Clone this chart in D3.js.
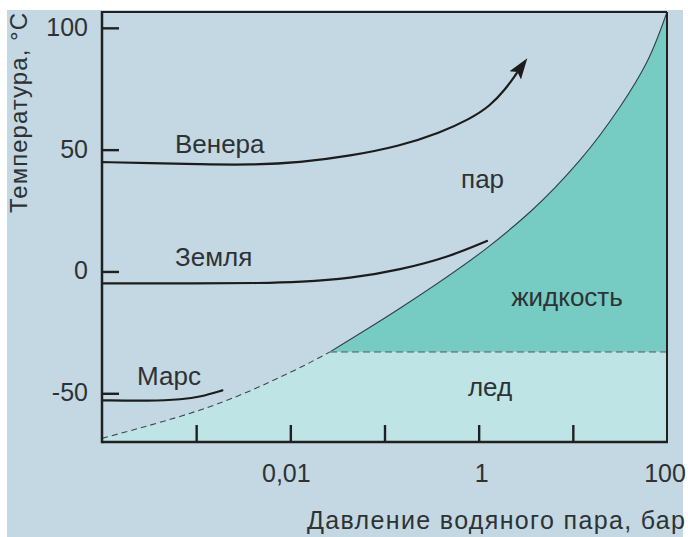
<!DOCTYPE html>
<html>
<head>
<meta charset="utf-8">
<script src="https://cdn.jsdelivr.net/npm/d3@7"></script>
<style>
  html, body { margin: 0; padding: 0; background: #ffffff; }
  svg { display: block; font-family: "Liberation Sans", Arial, sans-serif; }
</style>
</head>
<body>
<svg id="chart" width="688" height="537"></svg>
<script>
// Phase diagram of water with planetary surface conditions
const xTickValues = [0.001, 0.01, 0.1, 1, 10];
const xLabelValues = [0.01, 1, 100];
const xLabelTexts = ["0,01", "1", "100"];
const yTickValues = [100, 50, 0, -50];

// Vapour-pressure boundary (pressure in bar, temperature in °C)
const boundaryP = [1e-4, 0.001, 0.01, 0.0264, 0.146, 1.22, 3.51, 11.9, 31.6, 61.2, 100];
const boundaryT = [-68.5, -57.4, -41.4, -33, -15.1, 9.6, 24.4, 45.7, 67.5, 86.0, 106.5];
const freezeT = -33;

// Planet tracks
const venusP = [1e-4, 3.24e-4, 0.0011, 0.00373, 0.0127, 0.0431, 0.146, 0.388, 0.809, 1.318, 1.90, 2.55];
const venusT = [44.9, 44.5, 44.0, 43.7, 44.7, 47.4, 51.5, 56.9, 62.6, 67.9, 74.5, 81.5];
const earthP = [1e-4, 0.0011, 0.00476, 0.0127, 0.0431, 0.146, 0.495, 1.225];
const earthT = [-4.9, -4.9, -4.8, -4.35, -2.9, 0.6, 6.1, 12.5];
const marsP = [1e-4, 3.2e-4, 7.2e-4, 0.0011, 0.0019];
const marsT = [-52.9, -53.2, -52.5, -51.5, -48.8];

const planetNames = ["Венера", "Земля", "Марс"];
const planetLabelP = [5.96e-4, 5.96e-4, 2.36e-4];
const planetLabelT = [48.6, 2.2, -46.6];
const regionNames = ["пар", "жидкость", "лед"];
const regionLabelP = [1.10, 8.67, 1.32];
const regionLabelT = [34.2, -14.2, -51.1];

const svg = d3.select("#chart");
const plotLeft = 102, plotRight = 667, plotTop = 12, plotBottom = 442;

const x = d3.scaleLog().domain([1e-4, 100]).range([plotLeft, plotRight]);
const y = d3.scaleLinear().domain([-70, 106.5]).range([plotBottom, plotTop]);

const textColor = "#2e3235";
const ink = "#1c1c1c";

// page background
svg.append("rect").attr("x", 7).attr("y", 10).attr("width", 676).attr("height", 527)
  .attr("fill", "#c3d8e2");

const plot = svg.append("g");
plot.append("clipPath").attr("id", "plotClip")
  .append("rect").attr("x", plotLeft).attr("y", plotTop)
  .attr("width", plotRight - plotLeft).attr("height", plotBottom - plotTop);

const fills = plot.append("g").attr("clip-path", "url(#plotClip)");
// liquid above the freezing line, ice below
fills.append("rect").attr("x", plotLeft).attr("width", plotRight - plotLeft)
  .attr("y", plotTop).attr("height", y(freezeT) - plotTop).attr("fill", "#76cbc3");
fills.append("rect").attr("x", plotLeft).attr("width", plotRight - plotLeft)
  .attr("y", y(freezeT)).attr("height", plotBottom - y(freezeT)).attr("fill", "#bfe4e5");

const boundary = boundaryP.map((p, i) => ({ p, t: boundaryT[i] }));

// vapour region: everything left of the boundary
fills.append("path").datum(boundary)
  .attr("d", d3.area().curve(d3.curveMonotoneY)
    .y(d => y(d.t)).x0(plotLeft).x1(d => x(d.p)))
  .attr("fill", "#c3d8e2");

const bLine = d3.line().curve(d3.curveMonotoneY).x(d => x(d.p)).y(d => y(d.t));
fills.append("path").datum(boundary.filter(d => d.t <= freezeT))
  .attr("d", bLine).attr("fill", "none").attr("stroke", "#3a4a50")
  .attr("stroke-width", 1.1).attr("stroke-dasharray", "6,4");
fills.append("path").datum(boundary.filter(d => d.t >= freezeT))
  .attr("d", bLine).attr("fill", "none").attr("stroke", "#2f4045")
  .attr("stroke-width", 1.1);

// freezing line
fills.append("line")
  .attr("x1", x(boundaryP[3])).attr("x2", plotRight)
  .attr("y1", y(freezeT)).attr("y2", y(freezeT))
  .attr("stroke", "#6e8c8a").attr("stroke-width", 1.6).attr("stroke-dasharray", "7,4");

// arrow head for the Venus track
svg.append("defs").append("marker")
  .attr("id", "arrow").attr("markerUnits", "userSpaceOnUse")
  .attr("viewBox", "0 -8 21 16").attr("markerWidth", 21).attr("markerHeight", 16)
  .attr("refX", 3).attr("refY", 0).attr("orient", "auto")
  .append("path").attr("d", "M0,-7L21,0L0,7L4,0Z").attr("fill", ink);

const track = d3.line().curve(d3.curveBasis).x(d => x(d.p)).y(d => y(d.t));
function drawTrack(P, T, arrow) {
  const p = plot.append("path").datum(P.map((v, i) => ({ p: v, t: T[i] })))
    .attr("d", track).attr("fill", "none").attr("stroke", ink)
    .attr("stroke-width", 2.2).attr("stroke-linecap", "round");
  if (arrow) p.attr("marker-end", "url(#arrow)");
}
drawTrack(venusP, venusT, true);
drawTrack(earthP, earthT, false);
drawTrack(marsP, marsT, false);

// frame
const frame = plot.append("g").attr("fill", "none").attr("stroke", "#202020");
frame.append("line").attr("x1", plotLeft).attr("x2", plotRight).attr("y1", plotTop).attr("y2", plotTop).attr("stroke-width", 2);
frame.append("line").attr("x1", plotRight).attr("x2", plotRight).attr("y1", plotTop).attr("y2", plotBottom).attr("stroke-width", 2);
frame.append("line").attr("x1", plotLeft).attr("x2", plotLeft).attr("y1", plotTop - 1).attr("y2", plotBottom + 1.25).attr("stroke-width", 2.5);
frame.append("line").attr("x1", plotLeft).attr("x2", plotRight + 1).attr("y1", plotBottom).attr("y2", plotBottom).attr("stroke-width", 2.5);

// axes with inward ticks
const yAxis = d3.axisRight(y).tickValues(yTickValues).tickSize(17).tickFormat("");
const gy = svg.append("g").attr("transform", `translate(${plotLeft},0)`).call(yAxis);
gy.select(".domain").remove();
gy.selectAll(".tick line").attr("stroke", "#202020").attr("stroke-width", 2.4);

const xAxis = d3.axisTop(x).tickValues(xTickValues).tickSize(17).tickFormat("");
const gx = svg.append("g").attr("transform", `translate(0,${plotBottom})`).call(xAxis);
gx.select(".domain").remove();
gx.selectAll(".tick line").attr("stroke", "#202020").attr("stroke-width", 2.4);

// tick labels
svg.append("g").selectAll("text").data(yTickValues).join("text")
  .attr("x", 88).attr("y", d => y(d) + 8)
  .attr("text-anchor", "end").attr("font-size", 25).attr("fill", textColor)
  .text(d => d);

svg.append("g").selectAll("text").data(xLabelValues).join("text")
  .attr("x", (d, i) => x(d) + [-4, 3, -2][i]).attr("y", 482)
  .attr("text-anchor", "middle").attr("font-size", 25).attr("fill", textColor)
  .text((d, i) => xLabelTexts[i]);

// axis titles
svg.append("text").attr("x", 307).attr("y", 529)
  .attr("textLength", 378).attr("lengthAdjust", "spacing")
  .attr("font-size", 25).attr("fill", textColor).text("Давление водяного пара, бар");
svg.append("text").attr("transform", "translate(27,213) rotate(-90)")
  .attr("textLength", 200).attr("lengthAdjust", "spacing")
  .attr("font-size", 24).attr("fill", textColor)
  .text("Температура, °C");

// planet and region labels
svg.append("g").selectAll("text").data(planetNames).join("text")
  .attr("x", (d, i) => x(planetLabelP[i])).attr("y", (d, i) => y(planetLabelT[i]))
  .attr("font-size", 26).attr("fill", textColor).text(d => d);
svg.append("g").selectAll("text").data(regionNames).join("text")
  .attr("x", (d, i) => x(regionLabelP[i])).attr("y", (d, i) => y(regionLabelT[i]))
  .attr("text-anchor", "middle").attr("font-size", 26).attr("fill", textColor).text(d => d);
</script>
</body>
</html>
